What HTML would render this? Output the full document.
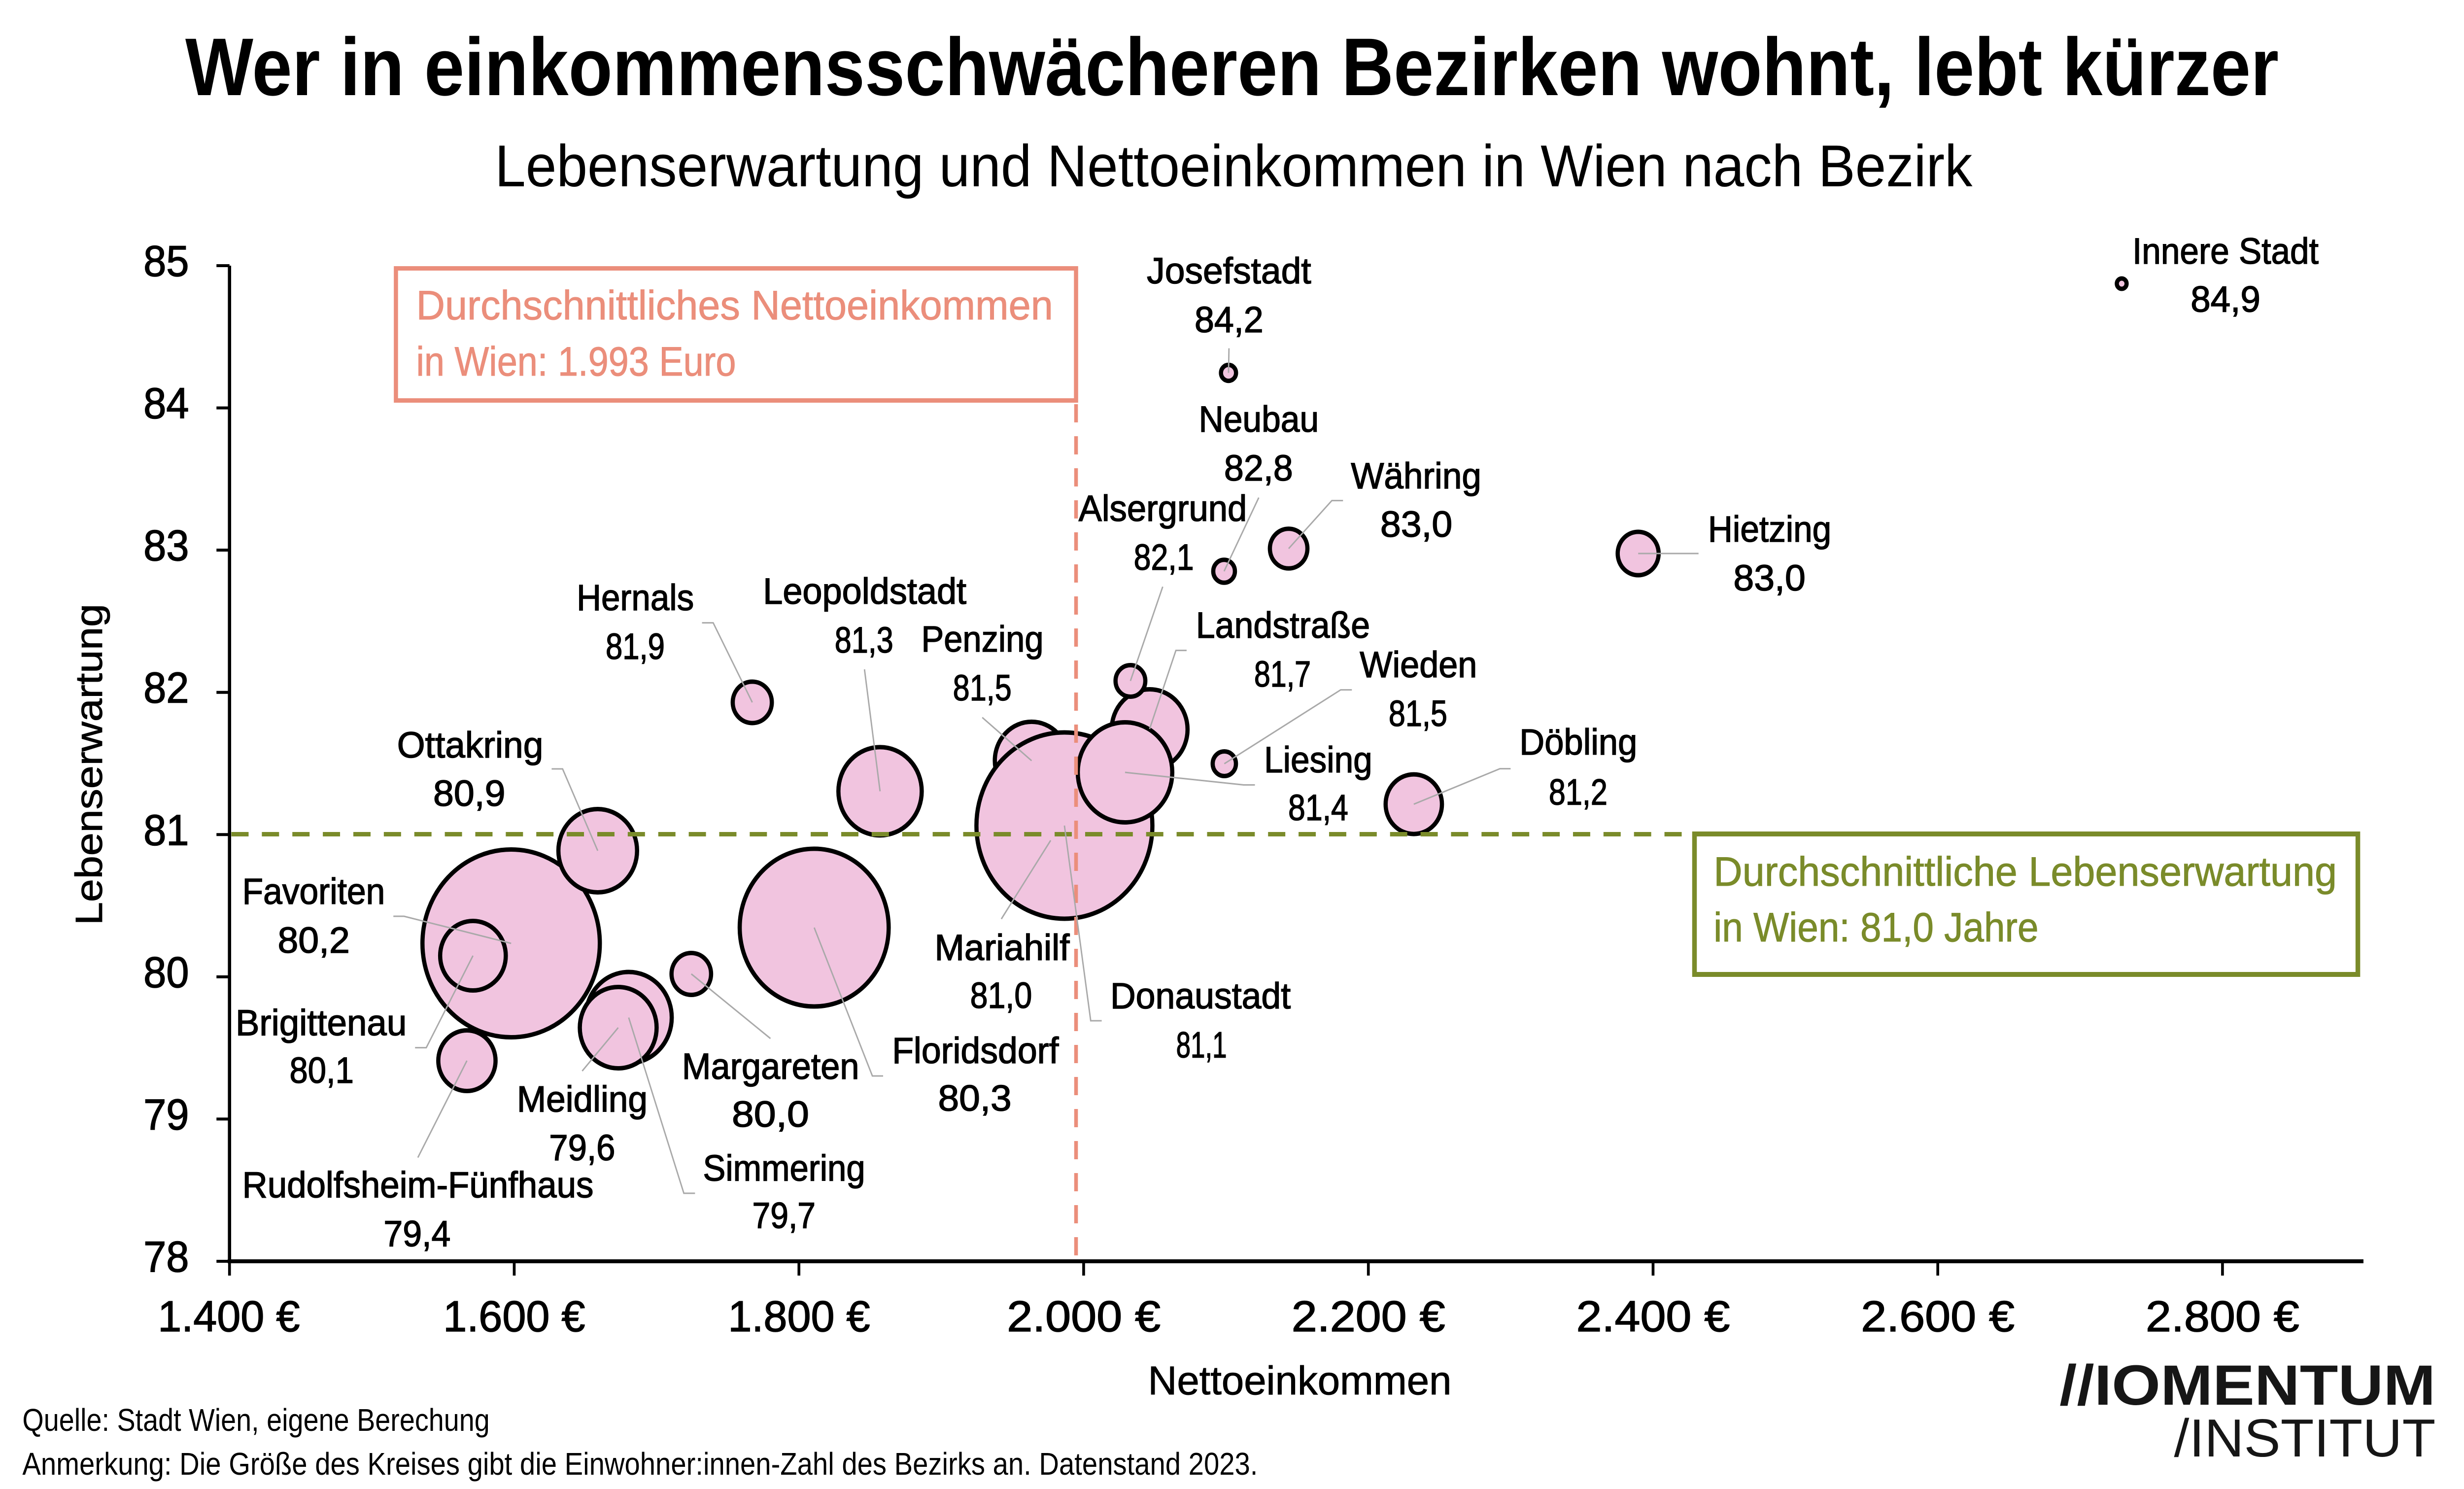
<!DOCTYPE html>
<html lang="de">
<head>
<meta charset="utf-8">
<meta name="viewport" content="width=5293, initial-scale=1">
<title>Wer in einkommensschwächeren Bezirken wohnt, lebt kürzer</title>
<style>
  html, body { margin: 0; padding: 0; background: #ffffff; width: 100%; height: 100%; overflow: hidden; }
  svg { display: block; width: 100vw; height: 100vh; }
  text { font-family: "Liberation Sans", Arial, sans-serif; fill: #000; }
  .lbl { font-size: 74px; stroke: #000; stroke-width: 1.5px; }
  .val { font-size: 74px; stroke: #000; stroke-width: 1.5px; }
  .tick { font-size: 88px; stroke: #000; stroke-width: 1.5px; }
</style>
</head>
<body>
<svg viewBox="0 0 5293 3021" preserveAspectRatio="none" xmlns="http://www.w3.org/2000/svg">
  <rect x="0" y="0" width="5293" height="3021" fill="#ffffff"/>

  <!-- Title & subtitle -->
  <text x="398" y="193" font-size="166" font-weight="bold" textLength="4497" lengthAdjust="spacingAndGlyphs">Wer in einkommensschwächeren Bezirken wohnt, lebt kürzer</text>
  <text x="1063" y="378" font-size="120" textLength="3174" lengthAdjust="spacingAndGlyphs">Lebenserwartung und Nettoeinkommen in Wien nach Bezirk</text>

  <!-- Orange box -->
  <rect x="850.5" y="544.5" width="1461" height="268" fill="none" stroke="#EB8E7B" stroke-width="9"/>
  <text x="894" y="648" font-size="84" style="fill:#EB8E7B;stroke:#EB8E7B;stroke-width:1px" textLength="1368" lengthAdjust="spacingAndGlyphs">Durchschnittliches Nettoeinkommen</text>
  <text x="894" y="762" font-size="84" style="fill:#EB8E7B;stroke:#EB8E7B;stroke-width:1px" textLength="687" lengthAdjust="spacingAndGlyphs">in Wien: 1.993 Euro</text>

  <!-- Green box -->
  <rect x="3640" y="1692" width="1425" height="285" fill="none" stroke="#7A8B2A" stroke-width="10"/>
  <text x="3681" y="1797" font-size="84" style="fill:#7A8B2A;stroke:#7A8B2A;stroke-width:1px" textLength="1339" lengthAdjust="spacingAndGlyphs">Durchschnittliche Lebenserwartung</text>
  <text x="3681" y="1910" font-size="84" style="fill:#7A8B2A;stroke:#7A8B2A;stroke-width:1px" textLength="698" lengthAdjust="spacingAndGlyphs">in Wien: 81,0 Jahre</text>

  <!-- Bubbles (district order) -->
  <g fill="#F1C4DF" stroke="#000" stroke-width="9">
    <circle cx="4557.7" cy="575.5" r="10.5"/>
    <circle cx="1890.5" cy="1605.4" r="89.5"/>
    <circle cx="2469.5" cy="1480" r="81.5"/>
    <circle cx="2630" cy="1549.5" r="25"/>
    <circle cx="1485" cy="1976" r="42.5"/>
    <circle cx="2257" cy="1705" r="30.5"/>
    <circle cx="2629.5" cy="1159" r="23.3"/>
    <circle cx="2639" cy="756.5" r="16.2"/>
    <circle cx="2428.3" cy="1381.5" r="32"/>
    <circle cx="1098" cy="1914" r="190.5"/>
    <circle cx="1350.5" cy="2064.5" r="92.5"/>
    <circle cx="1328" cy="2085" r="82.5"/>
    <circle cx="3519" cy="1123" r="44"/>
    <circle cx="2216" cy="1543.4" r="79"/>
    <circle cx="1003" cy="2152" r="61.5"/>
    <circle cx="1284" cy="1726" r="84.5"/>
    <circle cx="1616" cy="1425" r="42"/>
    <circle cx="2768.2" cy="1113" r="40.3"/>
    <circle cx="3037" cy="1631.6" r="60.5"/>
    <circle cx="1016" cy="1939" r="70.5"/>
    <circle cx="1749" cy="1882" r="160"/>
    <circle cx="2286.5" cy="1675" r="189"/>
    <circle cx="2416.7" cy="1567" r="101.5"/>
  </g>

  <!-- Reference dashed lines -->
  <line x1="497" y1="1692.5" x2="3635" y2="1692.5" stroke="#7A8B2A" stroke-width="9" stroke-dasharray="37 28.5"/>
  <line x1="2311.5" y1="820" x2="2311.5" y2="2559" stroke="#EB8E7B" stroke-width="8" stroke-dasharray="37 28"/>

  <!-- Leader lines -->
  <g fill="none" stroke="#A9A9A9" stroke-width="3">
    <polyline points="2640,706.6 2639,756.5"/>
    <polyline points="2704,1009.6 2629.5,1159"/>
    <polyline points="2885,1015.6 2861,1015.6 2768.2,1113"/>
    <polyline points="3648.7,1123 3519,1123"/>
    <polyline points="2497.7,1190.4 2428.3,1381.5"/>
    <polyline points="2549,1319.6 2526,1319.6 2469.5,1479"/>
    <polyline points="2904,1399.6 2880,1399.6 2630,1549.5"/>
    <polyline points="2695.7,1592.5 2671.6,1592.5 2416.7,1567"/>
    <polyline points="3245,1559.6 3222,1559.6 3037,1631.6"/>
    <polyline points="2366.6,2071 2343,2071 2286.5,1675"/>
    <polyline points="2151,1864.5 2257,1705"/>
    <polyline points="2110,1455.6 2216,1543.4"/>
    <polyline points="1857,1358 1890.5,1605.4"/>
    <polyline points="1508,1263.6 1532,1263.6 1616,1425"/>
    <polyline points="1185,1560 1208.5,1560 1284,1726"/>
    <polyline points="845,1859 868,1859 1098,1914"/>
    <polyline points="891.6,2125.6 915.7,2125.6 1016,1939"/>
    <polyline points="897.6,2348.6 1003,2152"/>
    <polyline points="1250.6,2173 1328,2085"/>
    <polyline points="1493,2421 1469,2421 1350.5,2064.5"/>
    <polyline points="1655,2107 1485,1976"/>
    <polyline points="1897,2183 1874,2183 1749,1882"/>
  </g>

  <!-- District labels -->
  <g>
    <text class="lbl" x="4580.6" y="535" textLength="400" lengthAdjust="spacingAndGlyphs">Innere Stadt</text>
    <text class="lbl" x="2463.5" y="575" textLength="353" lengthAdjust="spacingAndGlyphs">Josefstadt</text>
    <text class="lbl" x="2575" y="876" textLength="258" lengthAdjust="spacingAndGlyphs">Neubau</text>
    <text class="lbl" x="2902" y="991" textLength="280" lengthAdjust="spacingAndGlyphs">Währing</text>
    <text class="lbl" x="3669" y="1099" textLength="265" lengthAdjust="spacingAndGlyphs">Hietzing</text>
    <text class="lbl" x="2317" y="1057" textLength="361.6" lengthAdjust="spacingAndGlyphs">Alsergrund</text>
    <text class="lbl" x="2569" y="1294" textLength="374" lengthAdjust="spacingAndGlyphs">Landstraße</text>
    <text class="lbl" x="2921" y="1374" textLength="252" lengthAdjust="spacingAndGlyphs">Wieden</text>
    <text class="lbl" x="2715.4" y="1567" textLength="232.5" lengthAdjust="spacingAndGlyphs">Liesing</text>
    <text class="lbl" x="3264" y="1531" textLength="253" lengthAdjust="spacingAndGlyphs">Döbling</text>
    <text class="lbl" x="2385" y="2046" textLength="387.6" lengthAdjust="spacingAndGlyphs">Donaustadt</text>
    <text class="lbl" x="2007.6" y="1948" textLength="290" lengthAdjust="spacingAndGlyphs">Mariahilf</text>
    <text class="lbl" x="1979" y="1322" textLength="262.6" lengthAdjust="spacingAndGlyphs">Penzing</text>
    <text class="lbl" x="1639" y="1225" textLength="437" lengthAdjust="spacingAndGlyphs">Leopoldstadt</text>
    <text class="lbl" x="1238.7" y="1238" textLength="252" lengthAdjust="spacingAndGlyphs">Hernals</text>
    <text class="lbl" x="853" y="1537" textLength="314" lengthAdjust="spacingAndGlyphs">Ottakring</text>
    <text class="lbl" x="520.5" y="1834" textLength="306.5" lengthAdjust="spacingAndGlyphs">Favoriten</text>
    <text class="lbl" x="506" y="2100.6" textLength="367.6" lengthAdjust="spacingAndGlyphs">Brigittenau</text>
    <text class="lbl" x="520.5" y="2429.5" textLength="754.5" lengthAdjust="spacingAndGlyphs">Rudolfsheim-Fünfhaus</text>
    <text class="lbl" x="1110.3" y="2255.6" textLength="280.7" lengthAdjust="spacingAndGlyphs">Meidling</text>
    <text class="lbl" x="1510" y="2395.7" textLength="348.6" lengthAdjust="spacingAndGlyphs">Simmering</text>
    <text class="lbl" x="1465" y="2189" textLength="380.7" lengthAdjust="spacingAndGlyphs">Margareten</text>
    <text class="lbl" x="1916.3" y="2157" textLength="358" lengthAdjust="spacingAndGlyphs">Floridsdorf</text>
  </g>

  <!-- Values -->
  <g>
    <text class="val" x="4705.7" y="632.4" textLength="150" lengthAdjust="spacingAndGlyphs">84,9</text>
    <text class="val" x="2566" y="674" textLength="148" lengthAdjust="spacingAndGlyphs">84,2</text>
    <text class="val" x="2629.5" y="975" textLength="148" lengthAdjust="spacingAndGlyphs">82,8</text>
    <text class="val" x="2965" y="1088.8" textLength="155" lengthAdjust="spacingAndGlyphs">83,0</text>
    <text class="val" x="3723.5" y="1198" textLength="155" lengthAdjust="spacingAndGlyphs">83,0</text>
    <text class="val" x="2435.5" y="1156" textLength="129" lengthAdjust="spacingAndGlyphs">82,1</text>
    <text class="val" x="2694" y="1393" textLength="122" lengthAdjust="spacingAndGlyphs">81,7</text>
    <text class="val" x="2983" y="1472.8" textLength="126" lengthAdjust="spacingAndGlyphs">81,5</text>
    <text class="val" x="2767.2" y="1664" textLength="129" lengthAdjust="spacingAndGlyphs">81,4</text>
    <text class="val" x="3327" y="1632.6" textLength="126" lengthAdjust="spacingAndGlyphs">81,2</text>
    <text class="val" x="2526.5" y="2145.7" textLength="109" lengthAdjust="spacingAndGlyphs">81,1</text>
    <text class="val" x="2084" y="2045" textLength="133" lengthAdjust="spacingAndGlyphs">81,0</text>
    <text class="val" x="2047" y="1421" textLength="126" lengthAdjust="spacingAndGlyphs">81,5</text>
    <text class="val" x="1793" y="1324" textLength="126" lengthAdjust="spacingAndGlyphs">81,3</text>
    <text class="val" x="1301" y="1336.8" textLength="127" lengthAdjust="spacingAndGlyphs">81,9</text>
    <text class="val" x="930.5" y="1635" textLength="155" lengthAdjust="spacingAndGlyphs">80,9</text>
    <text class="val" x="596.5" y="1933" textLength="155" lengthAdjust="spacingAndGlyphs">80,2</text>
    <text class="val" x="622" y="2197" textLength="138" lengthAdjust="spacingAndGlyphs">80,1</text>
    <text class="val" x="824" y="2528.5" textLength="144" lengthAdjust="spacingAndGlyphs">79,4</text>
    <text class="val" x="1179.6" y="2353.8" textLength="142" lengthAdjust="spacingAndGlyphs">79,6</text>
    <text class="val" x="1616" y="2491.5" textLength="136" lengthAdjust="spacingAndGlyphs">79,7</text>
    <text class="val" x="1572" y="2286" textLength="166" lengthAdjust="spacingAndGlyphs">80,0</text>
    <text class="val" x="2015" y="2253.6" textLength="158" lengthAdjust="spacingAndGlyphs">80,3</text>
  </g>

  <!-- Axes -->
  <g stroke="#000">
    <line x1="493" y1="539" x2="493" y2="2563" stroke-width="7"/>
    <line x1="489" y1="2559" x2="5077" y2="2559" stroke-width="8"/>
    <line x1="465" y1="539" x2="493" y2="539" stroke-width="6"/>
    <line x1="465" y1="827.6" x2="493" y2="827.6" stroke-width="6"/>
    <line x1="465" y1="1116.1" x2="493" y2="1116.1" stroke-width="6"/>
    <line x1="465" y1="1404.7" x2="493" y2="1404.7" stroke-width="6"/>
    <line x1="465" y1="1693.3" x2="493" y2="1693.3" stroke-width="6"/>
    <line x1="465" y1="1981.9" x2="493" y2="1981.9" stroke-width="6"/>
    <line x1="465" y1="2270.4" x2="493" y2="2270.4" stroke-width="6"/>
    <line x1="465" y1="2559" x2="493" y2="2559" stroke-width="6"/>
    <line x1="493" y1="2559" x2="493" y2="2588" stroke-width="6"/>
    <line x1="1104.6" y1="2559" x2="1104.6" y2="2588" stroke-width="6"/>
    <line x1="1716.2" y1="2559" x2="1716.2" y2="2588" stroke-width="6"/>
    <line x1="2327.8" y1="2559" x2="2327.8" y2="2588" stroke-width="6"/>
    <line x1="2939.4" y1="2559" x2="2939.4" y2="2588" stroke-width="6"/>
    <line x1="3551" y1="2559" x2="3551" y2="2588" stroke-width="6"/>
    <line x1="4162.6" y1="2559" x2="4162.6" y2="2588" stroke-width="6"/>
    <line x1="4774.2" y1="2559" x2="4774.2" y2="2588" stroke-width="6"/>
  </g>

  <!-- Y tick labels -->
  <g text-anchor="end">
    <text class="tick" x="406" y="560">85</text>
    <text class="tick" x="406" y="848.6">84</text>
    <text class="tick" x="406" y="1137.1">83</text>
    <text class="tick" x="406" y="1425.7">82</text>
    <text class="tick" x="406" y="1714.3">81</text>
    <text class="tick" x="406" y="2002.9">80</text>
    <text class="tick" x="406" y="2291.4">79</text>
    <text class="tick" x="406" y="2580">78</text>
  </g>

  <!-- X tick labels -->
  <g>
    <text class="tick" x="339" y="2701" textLength="305" lengthAdjust="spacingAndGlyphs">1.400 €</text>
    <text class="tick" x="952" y="2701" textLength="305" lengthAdjust="spacingAndGlyphs">1.600 €</text>
    <text class="tick" x="1564" y="2701" textLength="305" lengthAdjust="spacingAndGlyphs">1.800 €</text>
    <text class="tick" x="2163" y="2701" textLength="330" lengthAdjust="spacingAndGlyphs">2.000 €</text>
    <text class="tick" x="2774.4" y="2701" textLength="330" lengthAdjust="spacingAndGlyphs">2.200 €</text>
    <text class="tick" x="3386" y="2701" textLength="330" lengthAdjust="spacingAndGlyphs">2.400 €</text>
    <text class="tick" x="3997.6" y="2701" textLength="330" lengthAdjust="spacingAndGlyphs">2.600 €</text>
    <text class="tick" x="4609.2" y="2701" textLength="330" lengthAdjust="spacingAndGlyphs">2.800 €</text>
  </g>

  <!-- Axis titles -->
  <text x="2466" y="2829" font-size="82" style="stroke:#000;stroke-width:1px" textLength="652" lengthAdjust="spacingAndGlyphs">Nettoeinkommen</text>
  <text transform="translate(219,1877) rotate(-90)" x="0" y="0" font-size="82" style="stroke:#000;stroke-width:1px" textLength="652" lengthAdjust="spacingAndGlyphs">Lebenserwartung</text>

  <!-- Footer -->
  <text x="48" y="2903" font-size="64" textLength="1004" lengthAdjust="spacingAndGlyphs">Quelle: Stadt Wien, eigene Berechung</text>
  <text x="48" y="2992" font-size="64" textLength="2654" lengthAdjust="spacingAndGlyphs">Anmerkung: Die Größe des Kreises gibt die Einwohner:innen-Zahl des Bezirks an. Datenstand 2023.</text>

  <!-- Logo -->
  <text x="4424" y="2850" font-size="115" font-weight="bold" style="fill:#161616" textLength="808" lengthAdjust="spacingAndGlyphs">//IOMENTUM</text>
  <text x="4670" y="2955" font-size="109" style="fill:#161616" textLength="562" lengthAdjust="spacingAndGlyphs">/INSTITUT</text>
</svg>
</body>
</html>
